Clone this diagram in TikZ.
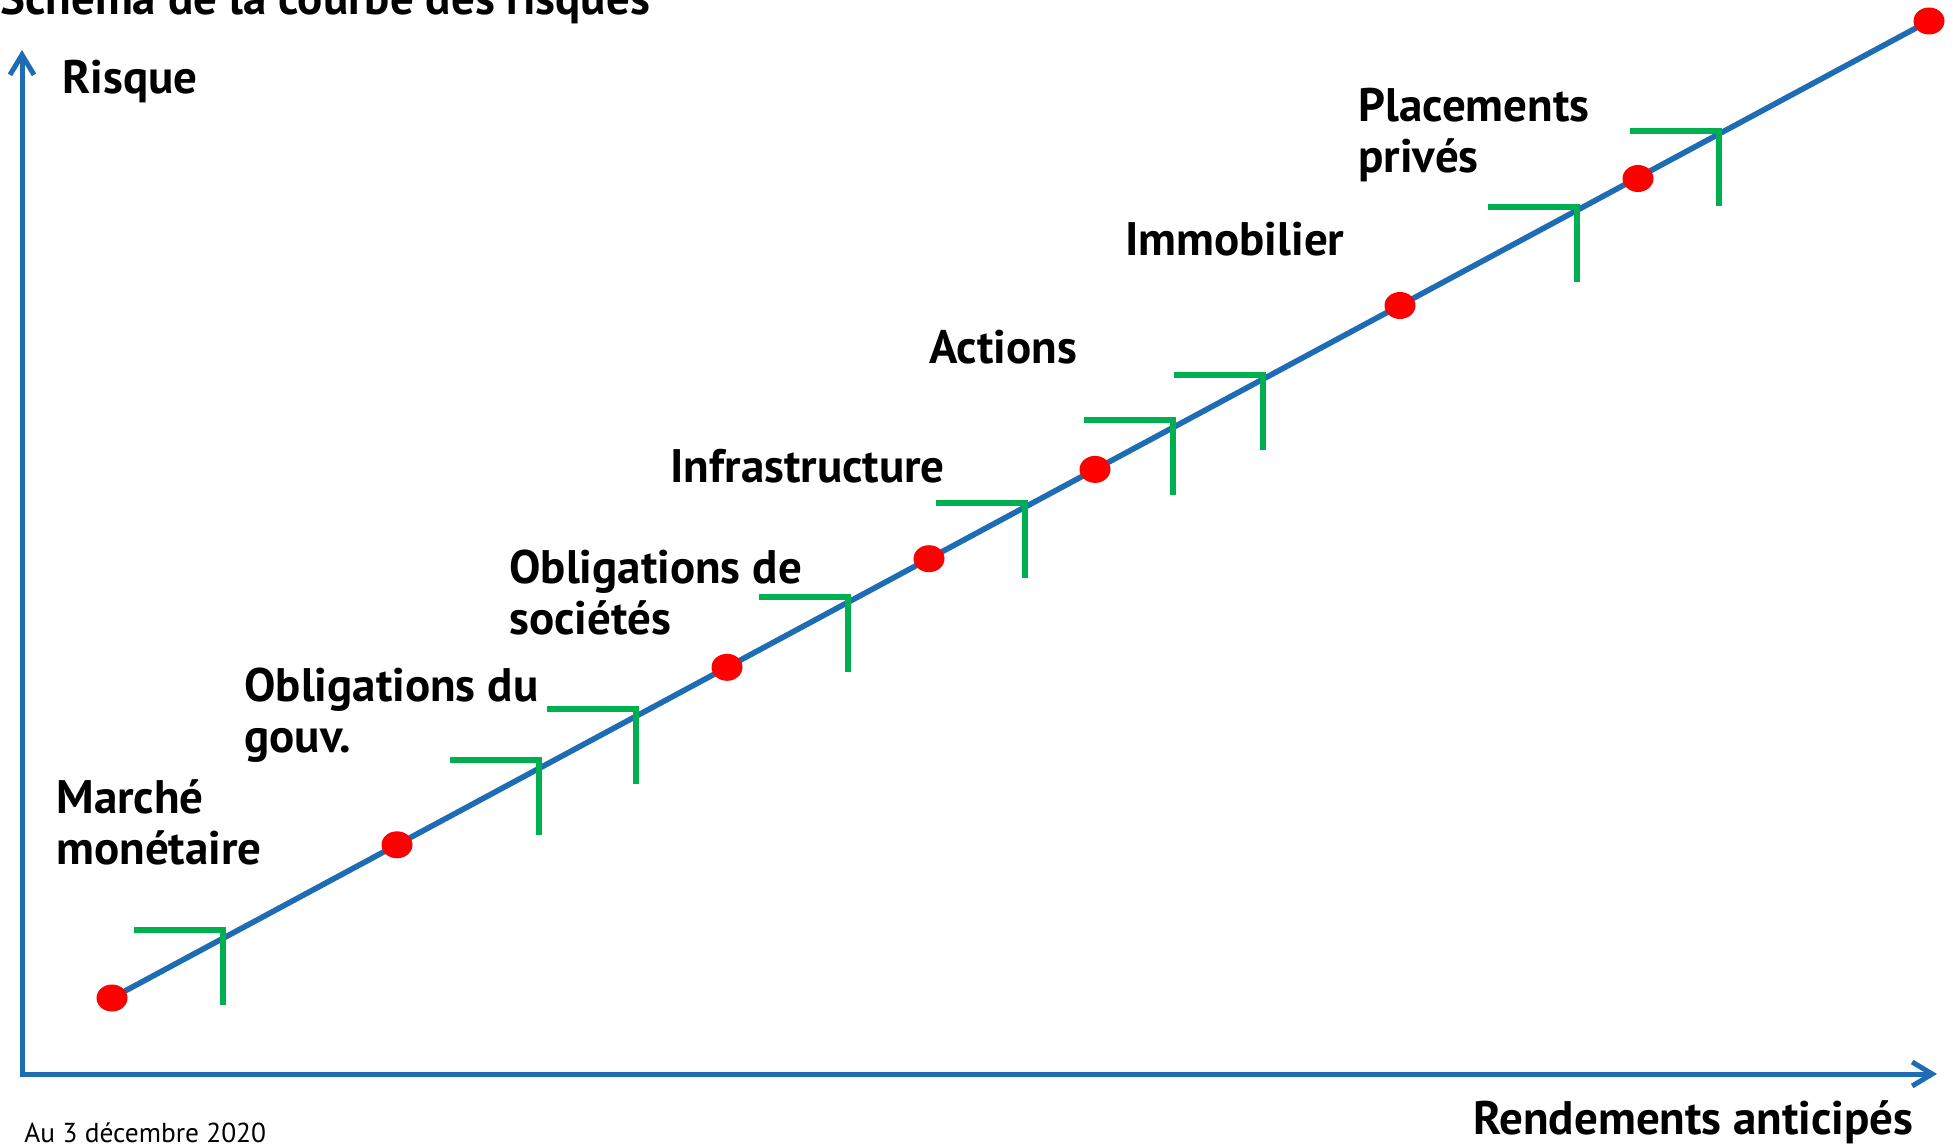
\documentclass[tikz,border=0pt]{standalone}
\usepackage{fontspec}
\setmainfont{PT Sans}
\usetikzlibrary{arrows.meta,shapes.geometric,calc}
\definecolor{axisblue}{RGB}{30,108,180}
\definecolor{markgreen}{RGB}{0,176,80}
\definecolor{dotred}{RGB}{255,0,0}
\begin{document}
\begin{tikzpicture}[x=0.5pt,y=-0.5pt,
  axisline/.style={draw=axisblue,line width=2.5pt,line join=miter,
    {Straight Barb[length=10pt,width=12pt,line width=2.5pt]}-{Straight Barb[length=10pt,width=12pt,line width=2.5pt]}},
  diagline/.style={draw=axisblue,line width=2.8pt},
  greenmark/.style={draw=markgreen,line width=3pt,line join=miter},
  reddot/.style={shape=ellipse,fill=dotred,inner sep=0pt,minimum width=15.5pt,minimum height=13.5pt},
  lbl/.style={font=\bfseries\fontsize{23.5}{25.5}\selectfont,inner sep=0pt,anchor=base west,align=left},
  datelbl/.style={font=\fontsize{13.7}{16}\selectfont,inner sep=0pt,anchor=base west}]
\clip (0,0) rectangle (1953,1145);
% axes
\coordinate (O) at (22,1074);
\coordinate (ytip) at (22,50);
\coordinate (xtip) at (1937,1074);
\draw[axisline] (ytip) -- (O) -- (xtip);
% diagonal
\coordinate (A) at (112,998);
\coordinate (B) at (1929,21);
\draw[diagline] (A) -- (B);
% green markers (corner x / corner y)
\foreach \cx/\cy in {223/930,539/760,636/709,848/597,1025/503,1173/420,1263/375,1577/207,1719/131}{
  \draw[greenmark] (\cx-89,\cy) -- (\cx,\cy) -- (\cx,\cy+75);
}
% dots
\node[reddot] (d1) at (A) {};
\node[reddot] (d2) at (397,844.8) {};
\node[reddot] (d3) at (727,667.3) {};
\node[reddot] (d4) at (929,558.7) {};
\node[reddot] (d5) at (1095,469.4) {};
\node[reddot] (d6) at (1400,305.5) {};
\node[reddot] (d7) at (1638,178.5) {};
\node[reddot] (d8) at (B) {};
% labels (multi-line: anchor on the last line's baseline)
\node[lbl] (title) at (0,15) {Schéma de la courbe des risques};
\node[lbl] (risque) at (62,94) {Risque};
\node[lbl] (l1) at (56,864) {Marché\\monétaire};
\node[lbl] (l2) at (244,752) {Obligations du\\gouv.};
\node[lbl] (l3) at (509,634) {Obligations de\\sociétés};
\node[lbl] (l4) at (670,482) {Infrastructure};
\node[lbl] (l5) at (929,363) {Actions};
\node[lbl] (l6) at (1125,255) {Immobilier};
\node[lbl] (l7) at (1358,172) {Placements\\privés};
\node[lbl] (rend) at (1473,1134) {Rendements anticipés};
\node[datelbl] (date) at (24,1142) {Au 3 décembre 2020};
\end{tikzpicture}
\end{document}
